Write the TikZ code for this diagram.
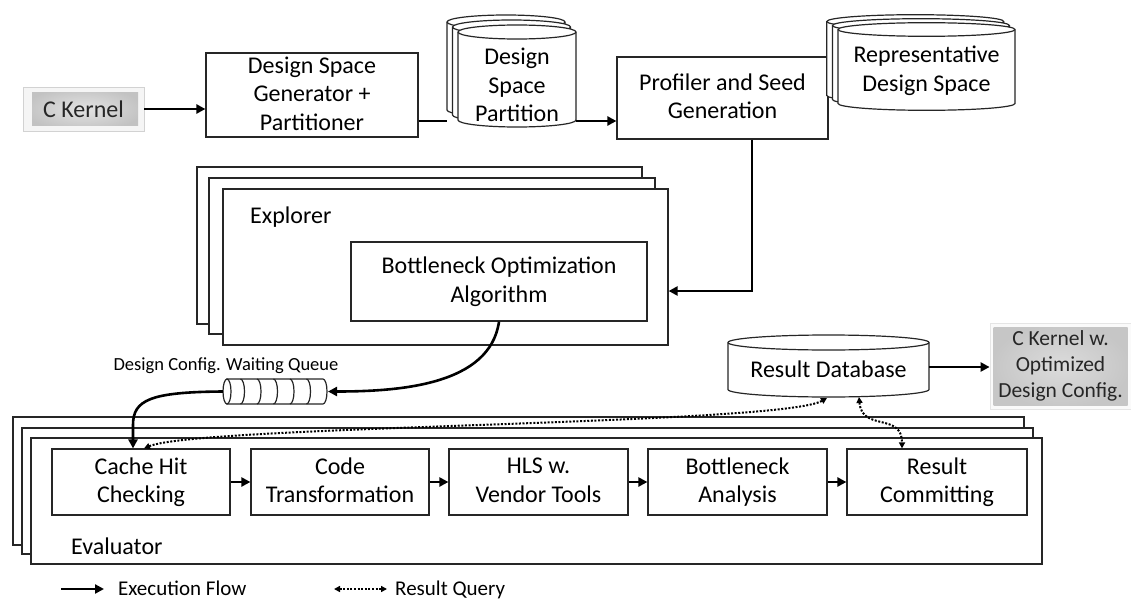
\documentclass[tikz,border=0pt]{standalone}
\usepackage{fontspec}
\setmainfont{Carlito}
\usetikzlibrary{arrows.meta,calc}
\newcommand\vcyl[5]{%
  \path[cyl] (#1,#3) -- (#1,#4) arc[start angle=180,end angle=0,x radius={(#2-#1)/2},y radius=#5]
    -- (#2,#3) arc[start angle=0,end angle=-180,x radius={(#2-#1)/2},y radius=#5] -- cycle;
  \draw[cyl,fill=none] (#1,#3) arc[start angle=180,end angle=0,x radius={(#2-#1)/2},y radius=#5];}
\newcommand\boxstrut{\rule[-3.2pt]{0pt}{23.2pt}}
\begin{document}
\begin{tikzpicture}[x=1pt,y=-1pt,
  box/.style={draw=black!85,line width=1.2pt,fill=white,align=center,inner sep=0pt,
    font=\fontsize{24}{28.5}\selectfont,
    execute at begin node=\boxstrut, execute at end node=\boxstrut},
  frame/.style={draw=black!85,line width=1.2pt,fill=white,inner sep=0pt},
  flow/.style={line width=2.6pt,-{Triangle[length=9pt,width=9pt]}},
  flowline/.style={line width=2.6pt},
  query/.style={line width=2pt,dash pattern=on 2pt off 1.6pt,
    {Triangle[length=6pt,width=6pt]}-{Triangle[length=6pt,width=6pt]}},
  cyl/.style={draw=black!85,line width=1.2pt,fill=white},
  lbl/.style={font=\fontsize{24}{28.5}\selectfont,align=center,inner sep=0pt},
  kern/.style={draw=gray!35,line width=0.8pt,fill=gray!8,align=center,inner sep=0pt,
    text=black!85},
  legendtext/.style={anchor=base west,font=\fontsize{21}{25}\selectfont,inner sep=0pt},
]
\useasboundingbox (0,0) rectangle (1131,599);

% ---------- top row ----------
\node[kern,minimum width=121pt,minimum height=44pt,font=\fontsize{24}{28.5}\selectfont,
  path picture={\shade[inner color=gray!22,outer color=gray!48]
    ([shift={(9pt,-6pt)}]path picture bounding box.north west) rectangle
    ([shift={(-6pt,6pt)}]path picture bounding box.south east);}] (ck) at (83.5,109) {C Kernel};

\node[box,minimum width=212pt,minimum height=84pt] (dsg) at (312,95) {Design Space\\Generator +\\Partitioner};
\node[box,minimum width=211pt,minimum height=82pt] (prof) at (722.5,98) {Profiler and Seed\\Generation};

\coordinate (dspL) at (447,121);
\coordinate (dspR) at (576,121);
\draw[flowline] (dspL -| dsg.east) -- (dspL);

% design space partition cylinders
\vcyl{447}{565}{22}{110}{7}
\vcyl{452.5}{570.5}{27}{115}{7}
\vcyl{458}{576}{32}{120}{7}
\node[lbl] (dsp) at (517,85) {Design\\Space\\Partition};

% representative design space cylinders
\vcyl{826.8}{1003.8}{21.5}{95.5}{6.8}
\vcyl{832.4}{1009.4}{25.5}{99.5}{6.8}
\vcyl{838}{1015}{29.5}{103.5}{6.8}
\node[lbl] (rds) at (926.5,71) {Representative\\Design Space};

\draw[flow] (ck.east) -- (ck.east -| dsg.west);
\draw[flow] (dspR) -- (dspR -| prof.west);

% ---------- explorer ----------
\node[frame,minimum width=445pt,minimum height=157pt] (exb) at (419.5,245.5) {};
\node[frame,minimum width=446pt,minimum height=156pt] (exm) at (432,256) {};
\node[frame,minimum width=445pt,minimum height=156pt] (exf) at (445.5,267) {};
\node[lbl,anchor=west] (exl) at (250,217) {Explorer};
\node[box,minimum width=296pt,minimum height=79pt] (boa) at (499,281.5) {Bottleneck Optimization\\Algorithm};

\coordinate (pdown) at (752,291);
\draw[flow] (prof.south -| pdown) -- (pdown) -- (pdown -| exf.east);

% ---------- queue ----------
\node[font=\fontsize{18.5}{22}\selectfont,inner sep=0pt] (qlabel) at (226,366) {Design Config. Waiting Queue};
\coordinate (qL) at (223,391.5);
\coordinate (qR) at (328,391.5);
\path[cyl] (227,379) -- (323,379) arc[start angle=-90,end angle=90,x radius=4,y radius=12.5] -- (227,404) -- cycle;
\draw[cyl] (227,391.5) ellipse[x radius=4,y radius=12.5];
\foreach \c in {240.5,257,273.5,290,306.5}
  \draw[cyl,fill=none] (\c,379) arc[start angle=-90,end angle=90,x radius=4,y radius=12.5];

\draw[flow] (boa.south) .. controls (490,385) and (400,391.5) .. (qR);

% ---------- result database ----------
\vcyl{728}{929}{342.5}{389.5}{7.5}
\node[lbl] (db) at (828.5,369) {Result Database};
\coordinate (dbE) at (929,367);
\coordinate (db1) at (827,398);
\coordinate (db2) at (859,397);

\node[kern,minimum width=141pt,minimum height=86pt,font=\fontsize{21.5}{26}\selectfont,
  draw=gray!20,fill=gray!4,
  path picture={\shade[inner color=gray!28,outer color=gray!45]
    ([shift={(3.5pt,-4pt)}]path picture bounding box.north west) rectangle
    ([shift={(-3.5pt,4pt)}]path picture bounding box.south east);}] (ckw) at (1060.5,366)
  {C Kernel w.\\Optimized\\Design Config.};
\draw[flow] (dbE) -- (dbE -| ckw.west);

% ---------- evaluator ----------
\node[frame,minimum width=1011pt,minimum height=128pt] (evb) at (518.5,481) {};
\node[frame,minimum width=1011pt,minimum height=126pt] (evm) at (527.5,491) {};
\node[frame,minimum width=1011pt,minimum height=126pt] (evf) at (536.5,501) {};
\node[lbl,anchor=west] (evl) at (71,546) {Evaluator};

\node[box,minimum width=178pt,minimum height=66pt] (cache) at (141,482) {Cache Hit\\Checking};
\node[box,minimum width=178pt,minimum height=66pt] (code) at (340,482) {Code\\Transformation};
\node[box,minimum width=179pt,minimum height=66pt] (hls) at (538.5,482) {HLS w.\\Vendor Tools};
\node[box,minimum width=179pt,minimum height=66pt] (bott) at (737.5,482) {Bottleneck\\Analysis};
\node[box,minimum width=180pt,minimum height=66pt] (res) at (937,482) {Result\\Committing};

\draw[flow] (cache.east) -- (code.west);
\draw[flow] (code.east) -- (hls.west);
\draw[flow] (hls.east) -- (bott.west);
\draw[flow] (bott.east) -- (res.west);

\draw[flow] (qL) .. controls (150,392) and (133,400) .. (133,425) -- ($(cache.north)+(-8,0)$);
\draw[query] ($(cache.north)+(3,0)$) .. controls (200,425) and (780,425) .. (db1);
\draw[query] (db2) .. controls (862,432) and (902,412) .. ($(res.north)+(-35,0)$);

% ---------- legend ----------
\coordinate (la1) at (61,589);
\coordinate (la2) at (104,589);
\coordinate (lb1) at (334,589);
\coordinate (lb2) at (387,589);
\draw[flow] (la1) -- (la2);
\node[legendtext] (lg1) at (118,595.5) {Execution Flow};
\draw[query] (lb1) -- (lb2);
\node[legendtext] (lg2) at (395,595.5) {Result Query};
\end{tikzpicture}
\end{document}
